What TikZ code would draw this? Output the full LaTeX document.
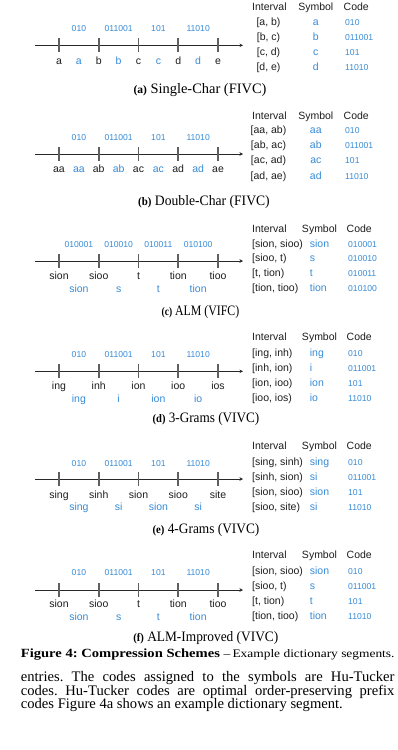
\documentclass[tikz,border=0pt]{standalone}
\usepackage{fontspec}
\usepackage{graphicx}
\usetikzlibrary{arrows.meta}
\newfontfamily\lsans{Liberation Sans}
\newfontfamily\lserif{Liberation Serif}
\frenchspacing
\definecolor{symblue}{RGB}{55,140,215}
\definecolor{labblack}{RGB}{30,30,30}
\definecolor{axisgray}{RGB}{40,40,40}
\definecolor{tickgray}{RGB}{95,95,95}
\newcommand{\labfont}{\lsans\fontsize{10.5}{12}\selectfont}
\newcommand{\cdfont}{\lsans\fontsize{8.6}{10}\selectfont}
\newcommand{\capfont}{\lserif\fontsize{14.4}{16}\selectfont}
\newcommand{\subl}[1]{{\bfseries\fontsize{11.5}{12}\selectfont(#1)}}
\tikzset{
  lab/.style={font=\labfont, anchor=mid, inner sep=0pt, text=labblack},
  blab/.style={lab, text=symblue},
  hdr/.style={lab},
  cd/.style={font=\cdfont, anchor=mid, inner sep=0pt, text=symblue},
  axisline/.style={draw=axisgray, line width=0.9pt, -{Stealth[length=3.5pt,width=3.5pt]}},
  tickline/.style={draw=tickgray, line width=1.7pt},
  subcap/.style={font=\capfont, anchor=mid, inner sep=0pt, text=black},
  bodytxt/.style={font=\lserif\fontsize{14.6}{16}\selectfont\frenchspacing, anchor=mid west, inner sep=0pt, text=black},
}
% axis with five ticks
\newcommand{\AxisPanel}[2]{%
  \coordinate (#1s) at (35,#2);
  \coordinate (#1e) at (243,#2);
  \draw[axisline] (#1s) -- (#1e);
  \foreach \i in {0,...,4}{%
    \coordinate (#1t\i) at ({59+39.75*\i},#2);
    \draw[tickline] ([yshift=7pt]#1t\i) -- ([yshift=-7pt]#1t\i);
  }%
}
% labels at ticks (black)
\newcommand{\TickLabels}[3]{%
  \foreach \t [count=\i from 0] in {#3}{\node[lab] (#1L\i) at ({59+39.75*\i},#2) {\t};}%
}
% labels between ticks (blue)
\newcommand{\MidLabels}[3]{%
  \foreach \t [count=\i from 0] in {#3}{\node[blab] (#1B\i) at ({78.9+39.75*\i},#2) {\t};}%
}
% codes above the axis
\newcommand{\Codes}[3]{%
  \foreach \t [count=\i from 0] in {#3}{\node[cd] (#1C\i) at ({78.9+39.75*\i},#2) {\t};}%
}
% table header, centred layout (a,b) and left layout (c-f)
\newcommand{\HeadC}[2]{%
  \node[hdr, anchor=mid west] (#1hI) at (252,#2) {Interval};
  \node[hdr] (#1hS) at (315.8,#2) {Symbol};
  \node[hdr, anchor=mid west] (#1hC) at (343.5,#2) {Code};
}
\newcommand{\HeadL}[2]{%
  \node[hdr, anchor=mid west] (#1hI) at (252,#2) {Interval};
  \node[hdr] (#1hS) at (319.5,#2) {Symbol};
  \node[hdr, anchor=mid west] (#1hC) at (346.5,#2) {Code};
}
\newcommand{\RowC}[5]{%
  \node[lab] (#1i) at (268.5,#2) {#3};
  \node[blab] (#1s) at (315.8,#2) {#4};
  \node[cd, anchor=mid west] (#1c) at (345,#2) {#5};
}
\newcommand{\RowL}[5]{%
  \node[lab, anchor=mid west] (#1i) at (252,#2) {#3};
  \node[blab, anchor=mid west] (#1s) at (309.7,#2) {#4};
  \node[cd, anchor=mid west] (#1c) at (348,#2) {#5};
}
\begin{document}
\begin{tikzpicture}[x=1pt,y=-1pt]
\useasboundingbox[fill=white] (0,0) rectangle (397,750);

% ---------------- (a)
\AxisPanel{pa}{45.3}
\Codes{pa}{29.3}{010,011001,101,11010}
\TickLabels{pa}{62.7}{a,b,c,d,e}
\MidLabels{pa}{62.7}{a,b,c,d}
\HeadC{pa}{8.6}
\RowC{paa}{23.5}{[a, b)}{a}{010}
\RowC{pab}{38.5}{[b, c)}{b}{011001}
\RowC{pac}{53.5}{[c, d)}{c}{101}
\RowC{pad}{68.5}{[d, e)}{d}{11010}
\node[subcap] (capa) at (200,91.7) {\resizebox{133pt}{\height}{\subl{a} Single-Char (FIVC)}};

% ---------------- (b)
\AxisPanel{pb}{154}
\Codes{pb}{138.3}{010,011001,101,11010}
\TickLabels{pb}{170.7}{aa,ab,ac,ad,ae}
\MidLabels{pb}{170.7}{aa,ab,ac,ad}
\HeadC{pb}{117.5}
\RowC{pba}{131.5}{[aa, ab)}{aa}{010}
\RowC{pbb}{146.7}{[ab, ac)}{ab}{011001}
\RowC{pbc}{161.7}{[ac, ad)}{ac}{101}
\RowC{pbd}{177}{[ad, ae)}{ad}{11010}
\node[subcap] (capb) at (204,203.3) {\resizebox{131.5pt}{\height}{\subl{b} Double-Char (FIVC)}};

% ---------------- (c)
\AxisPanel{pc}{261}
\Codes{pc}{245}{010001,010010,010011,010100}
\TickLabels{pc}{277.7}{sion,sioo,t,tion,tioo}
\MidLabels{pc}{290.7}{sion,s,t,tion}
\HeadL{pc}{230}
\RowL{pca}{245}{[sion, sioo)}{sion}{010001}
\RowL{pcb}{259.5}{[sioo, t)}{s}{010010}
\RowL{pcc}{274.5}{[t, tion)}{t}{010011}
\RowL{pcd}{289.5}{[tion, tioo)}{tion}{010100}
\node[subcap] (capc) at (200.5,313.3) {\resizebox{77.7pt}{\height}{\subl{c} ALM (VIFC)}};

% ---------------- (d)
\AxisPanel{pd}{371.3}
\Codes{pd}{355}{010,011001,101,11010}
\TickLabels{pd}{387.7}{ing,inh,ion,ioo,ios}
\MidLabels{pd}{400}{ing,i,ion,io}
\HeadL{pd}{338.3}
\RowL{pda}{354}{[ing, inh)}{ing}{010}
\RowL{pdb}{369}{[inh, ion)}{i}{011001}
\RowL{pdc}{384}{[ion, ioo)}{ion}{101}
\RowL{pdd}{399.3}{[ioo, ios)}{io}{11010}
\node[subcap] (capd) at (206,420.7) {\resizebox{106.7pt}{\height}{\subl{d} 3-Grams (VIVC)}};

% ---------------- (e)
\AxisPanel{pe}{479}
\Codes{pe}{464.3}{010,011001,101,11010}
\TickLabels{pe}{496.7}{sing,sinh,sion,sioo,site}
\MidLabels{pe}{508.3}{sing,si,sion,si}
\HeadL{pe}{447.7}
\RowL{pea}{463}{[sing, sinh)}{sing}{010}
\RowL{peb}{478}{[sinh, sion)}{si}{011001}
\RowL{pec}{493}{[sion, sioo)}{sion}{101}
\RowL{ped}{508}{[sioo, site)}{si}{11010}
\node[subcap] (cape) at (206,531.7) {\resizebox{106.7pt}{\height}{\subl{e} 4-Grams (VIVC)}};

% ---------------- (f)
\AxisPanel{pf}{590}
\Codes{pf}{573.3}{010,011001,101,11010}
\TickLabels{pf}{605.7}{sion,sioo,t,tion,tioo}
\MidLabels{pf}{618.7}{sion,s,t,tion}
\HeadL{pf}{556}
\RowL{pfa}{572}{[sion, sioo)}{sion}{010}
\RowL{pfb}{587}{[sioo, t)}{s}{011001}
\RowL{pfc}{602}{[t, tion)}{t}{101}
\RowL{pfd}{617.3}{[tion, tioo)}{tion}{11010}
\node[subcap] (capf) at (205.8,639.3) {\resizebox{145pt}{\height}{\subl{f} ALM-Improved (VIVC)}};

% ---------------- figure caption and body text
\node[anchor=mid west, inner sep=0pt, font=\lserif\fontsize{12.5}{14}\selectfont\frenchspacing] (figcap) at (20.7,655)
  {\resizebox{373.6pt}{\height}{\textbf{Figure 4: Compression Schemes} \fontsize{11.5}{14}\selectfont–\,Example dictionary segments.}};
\node[bodytxt] (body1) at (20.7,679.3) {\makebox[373.6pt][s]{entries. The codes assigned to the symbols are Hu-Tucker}};
\node[bodytxt] (body2) at (20.7,693.3) {\makebox[373.6pt][s]{codes. Hu-Tucker codes are optimal order-preserving prefix}};
\node[bodytxt] (body3) at (20.7,706.7) {codes Figure 4a shows an example dictionary segment.};
\end{tikzpicture}
\end{document}
